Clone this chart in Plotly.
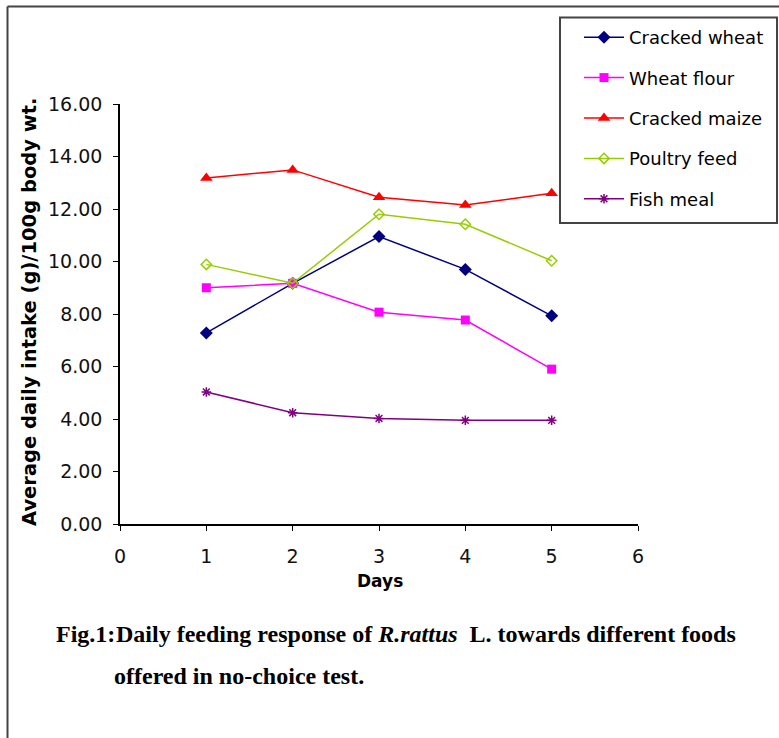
import plotly.graph_objects as go

days = [1, 2, 3, 4, 5]
cracked_wheat = [7.28, 9.17, 10.95, 9.70, 7.93]
wheat_flour = [9.00, 9.17, 8.07, 7.77, 5.90]
cracked_maize = [13.18, 13.49, 12.45, 12.15, 12.60]
poultry_feed = [9.89, 9.17, 11.80, 11.42, 10.03]
fish_meal = [5.03, 4.24, 4.02, 3.95, 3.95]

series_names = ["Cracked wheat", "Wheat flour", "Cracked maize", "Poultry feed", "Fish meal"]
series_values = [cracked_wheat, wheat_flour, cracked_maize, poultry_feed, fish_meal]
colors = ["#000080", "#FF00FF", "#FF0000", "#99CC00", "#800080"]
symbols = ["diamond", "square", "triangle-up", "diamond-open", "asterisk-open"]
sizes = [10, 9, 11, 8, 8]

W, H = 779, 738
ML, MR, MT, MB = 120, 141, 104, 214
PW, PH = W - ML - MR, H - MT - MB


def px(x):
    return (x - ML) / PW


def py(y):
    return (H - MB - y) / PH


fig = go.Figure()
for i, (name, vals) in enumerate(zip(series_names, series_values)):
    fig.add_trace(go.Scatter(
        x=days, y=vals, name=name, mode="lines+markers",
        legendgroup=name,
        line=dict(color=colors[i], width=1.5),
        marker=dict(symbol=symbols[i], size=sizes[i], color=colors[i],
                    line=dict(color=colors[i], width=1.5 if i >= 3 else 0)),
    ))

axis_font = dict(family="DejaVu Sans", size=19, color="#111111")

fig.update_layout(
    width=W, height=H,
    margin=dict(l=ML, r=MR, t=MT, b=MB, autoexpand=False),
    paper_bgcolor="white", plot_bgcolor="white",
    showlegend=True,
    legend=dict(
        xref="container", yref="container",
        x=579 / W, y=1 - 19 / H, xanchor="left", yanchor="top",
        font=dict(family="DejaVu Sans", size=18, color="#000000"),
        bgcolor="rgba(0,0,0,0)", borderwidth=0,
        tracegroupgap=14, traceorder="grouped", itemwidth=40,
    ),
    xaxis=dict(range=[0, 6], dtick=1, tick0=0, showgrid=False, zeroline=False,
               showline=True, linecolor="#000000", linewidth=1.5,
               ticks="outside", ticklen=5, tickcolor="#000000",
               tickfont=axis_font, ticklabelstandoff=9, automargin=False),
    yaxis=dict(range=[0, 16], dtick=2, tick0=0, tickformat=".2f",
               showgrid=False, zeroline=False,
               showline=True, linecolor="#000000", linewidth=1.5,
               ticks="outside", ticklen=5, tickcolor="#000000",
               tickfont=axis_font, ticklabelstandoff=7, automargin=False),
)

# Outer frame (top and left edges) and legend box
fig.add_shape(type="line", xref="paper", yref="paper",
              x0=px(7.5), x1=px(W + 5), y0=py(6.5), y1=py(6.5),
              line=dict(color="#444444", width=2))
fig.add_shape(type="line", xref="paper", yref="paper",
              x0=px(7.5), x1=px(7.5), y0=py(6.5), y1=py(H + 5),
              line=dict(color="#444444", width=2))
fig.add_shape(type="rect", xref="paper", yref="paper",
              x0=px(560), x1=px(777), y0=py(17.5), y1=py(223),
              line=dict(color="#444444", width=2), fillcolor="rgba(0,0,0,0)")

# Axis titles
fig.add_annotation(xref="paper", yref="paper", x=px(380), y=py(581),
                   text="<b>Days</b>", showarrow=False,
                   font=dict(family="DejaVu Sans", size=17, color="#000000"),
                   xanchor="center", yanchor="middle")
fig.add_annotation(xref="paper", yref="paper", x=px(29), y=py(312),
                   text="<b>Average daily intake (g)/100g body wt.</b>",
                   textangle=-90, showarrow=False,
                   font=dict(family="DejaVu Sans", size=19.5, color="#000000"),
                   xanchor="center", yanchor="middle")

# Caption
cap_font = dict(family="Liberation Serif", size=24, color="#000000")
fig.add_annotation(xref="paper", yref="paper", x=px(54), y=py(634),
                   text="<b>Fig.1:</b>", showarrow=False, font=cap_font,
                   xanchor="left", yanchor="middle")
fig.add_annotation(xref="paper", yref="paper", x=px(114), y=py(634),
                   text="<b>Daily feeding response of <i>R.rattus</i>  L. towards different foods</b>",
                   showarrow=False, font=cap_font, xanchor="left", yanchor="middle")
fig.add_annotation(xref="paper", yref="paper", x=px(112), y=py(676),
                   text="<b>offered in no-choice test.</b>",
                   showarrow=False, font=cap_font, xanchor="left", yanchor="middle")

fig.write_html("out.html")
